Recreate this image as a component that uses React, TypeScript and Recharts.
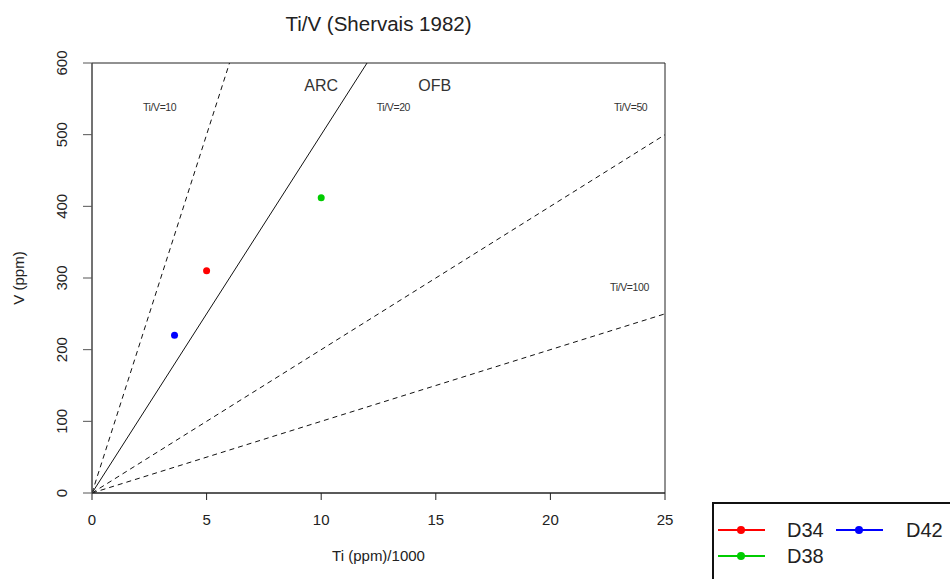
import React from 'react';
import {
  ComposedChart,
  Line,
  Scatter,
  XAxis,
  YAxis,
  ReferenceArea,
  ReferenceDot,
} from 'recharts';

// sample points (Ti ppm/1000, V ppm)
const samples = [
  { name: 'D34', color: '#ff0000', x: 5.0, y: 310 },
  { name: 'D38', color: '#00cc00', x: 10.0, y: 412 },
  { name: 'D42', color: '#0000ff', x: 3.6, y: 220 },
];

// Ti/V reference ratios and where each line ends
const ratioLines = [
  { ratio: 10, end: { x: 6, y: 600 }, dashed: true },
  { ratio: 20, end: { x: 12, y: 600 }, dashed: false },
  { ratio: 50, end: { x: 25, y: 500 }, dashed: true },
  { ratio: 100, end: { x: 25, y: 250 }, dashed: true },
];

const ratioLabels = [
  { text: 'Ti/V=10', x: 2.95, y: 539 },
  { text: 'Ti/V=20', x: 13.15, y: 539 },
  { text: 'Ti/V=50', x: 23.5, y: 539 },
  { text: 'Ti/V=100', x: 23.45, y: 288 },
];

const fieldLabels = [
  { text: 'ARC', x: 10, y: 569 },
  { text: 'OFB', x: 14.95, y: 569 },
];

const xTicks = [0, 5, 10, 15, 20, 25];
const yTicks = [0, 100, 200, 300, 400, 500, 600];

const FONT = '"Liberation Sans", Arial, sans-serif';

const YTick = ({ x, y, payload }: any) => (
  <text
    x={x - 14}
    y={y}
    transform={`rotate(-90, ${x - 14}, ${y})`}
    textAnchor="middle"
    fontSize={15}
    fill="#222"
    fontFamily={FONT}
  >
    {payload.value}
  </text>
);

const XTick = ({ x, y, payload }: any) => (
  <text
    x={x}
    y={y + 23}
    textAnchor="middle"
    fontSize={15}
    fill="#222"
    fontFamily={FONT}
  >
    {payload.value}
  </text>
);

const TextLabel = (size: number, text: string, spacing = 0) => (props: any) => {
  const { viewBox } = props;
  return (
    <text
      x={viewBox.x}
      y={viewBox.y}
      textAnchor="middle"
      dominantBaseline="central"
      fontSize={size}
      fill="#333"
      letterSpacing={spacing}
      fontFamily={FONT}
    >
      {text}
    </text>
  );
};

export default function App() {
  return (
    <div style={{ position: 'absolute', left: 0, top: 0, width: 950, height: 579, background: '#fff', fontFamily: FONT }}>
      <ComposedChart
        width={950}
        height={579}
        margin={{ top: 63, right: 285, bottom: 0, left: 0 }}
      >
        <XAxis
          type="number"
          dataKey="x"
          domain={[0, 25]}
          ticks={xTicks}
          height={86}
          tick={<XTick />}
          stroke="#222"
          tickSize={7}
          allowDataOverflow
        />
        <YAxis
          type="number"
          dataKey="y"
          domain={[0, 600]}
          ticks={yTicks}
          width={92}
          tick={<YTick />}
          stroke="#555"
          tickSize={9}
          allowDataOverflow
        />
        <ReferenceArea x1={0} x2={25} y1={0} y2={600} fill="none" stroke="#222" strokeWidth={1} />
        {ratioLines.map((l) => (
          <Line
            key={l.ratio}
            data={[{ x: 0, y: 0 }, l.end]}
            dataKey="y"
            stroke="#111"
            strokeWidth={1}
            strokeDasharray={l.dashed ? '5 4' : undefined}
            dot={false}
            activeDot={false}
            isAnimationActive={false}
            legendType="none"
          />
        ))}
        {samples.map((s) => (
          <Scatter
            key={s.name}
            name={s.name}
            data={[{ x: s.x, y: s.y }]}
            fill={s.color}
            shape={(p: any) => <circle cx={p.cx} cy={p.cy} r={3.5} fill={s.color} />}
            isAnimationActive={false}
          />
        ))}
        {ratioLabels.map((l) => (
          <ReferenceDot key={l.text} x={l.x} y={l.y} r={0} stroke="none" label={TextLabel(10.5, l.text, -0.4)} />
        ))}
        {fieldLabels.map((l) => (
          <ReferenceDot key={l.text} x={l.x} y={l.y} r={0} stroke="none" label={TextLabel(16, l.text)} />
        ))}
      </ComposedChart>

      <div style={{ position: 'absolute', left: 0, width: 757, top: 12, textAlign: 'center', fontSize: 20.5, color: '#222' }}>
        Ti/V (Shervais 1982)
      </div>
      <div style={{ position: 'absolute', left: 0, width: 757, top: 547, textAlign: 'center', fontSize: 15, color: '#222' }}>
        Ti (ppm)/1000
      </div>
      <div
        style={{
          position: 'absolute',
          left: 18,
          top: 278,
          transform: 'translate(-50%, -50%) rotate(-90deg)',
          fontSize: 15,
          color: '#222',
          whiteSpace: 'nowrap',
        }}
      >
        V (ppm)
      </div>

      <div
        style={{
          position: 'absolute',
          left: 712,
          top: 502,
          width: 260,
          height: 100,
          borderLeft: '2px solid #111',
          borderTop: '2px solid #111',
          boxSizing: 'border-box',
        }}
      />
      {[
        { s: samples[0], left: 718, top: 530, tx: 787 },
        { s: samples[2], left: 836, top: 530, tx: 906 },
        { s: samples[1], left: 718, top: 556, tx: 787 },
      ].map(({ s, left, top, tx }) => (
        <React.Fragment key={s.name}>
          <div style={{ position: 'absolute', left, top: top - 1, width: 47, height: 2, background: s.color }} />
          <div
            style={{
              position: 'absolute',
              left: left + 23 - 4,
              top: top - 4,
              width: 8,
              height: 8,
              borderRadius: 4,
              background: s.color,
            }}
          />
          <div style={{ position: 'absolute', left: tx, top: top - 12, fontSize: 20, color: '#222', lineHeight: '24px' }}>
            {s.name}
          </div>
        </React.Fragment>
      ))}
    </div>
  );
}
